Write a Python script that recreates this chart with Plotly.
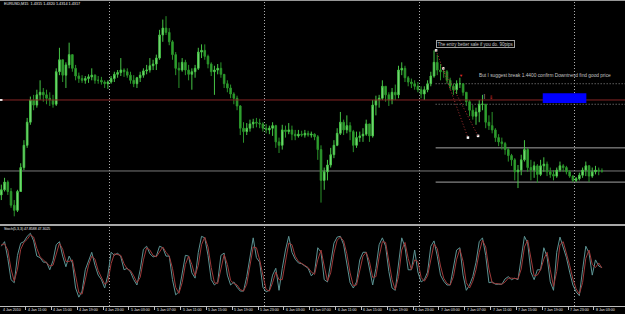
import pandas as pd
import plotly.graph_objects as go

# ---------------- data (EURUSD M30 approximation, prices in pips: 4295 = 1.4295) -------------
open_pips = [
    4289, 4295, 4304, 4293, 4277, 4271, 4293, 4321, 4347, 4374,
    4400, 4394, 4406, 4409, 4406, 4402, 4400, 4395, 4433, 4447,
    4429, 4441, 4453, 4437, 4428, 4425, 4423, 4425, 4427, 4429,
    4423, 4423, 4421, 4419, 4421, 4425, 4430, 4432, 4435, 4433,
    4429, 4423, 4419, 4426, 4429, 4434, 4435, 4440, 4442, 4449,
    4476, 4484, 4479, 4468, 4453, 4437, 4435, 4444, 4435, 4430,
    4433, 4437, 4456, 4458, 4451, 4442, 4433, 4435, 4437, 4430,
    4419, 4414, 4407, 4402, 4393, 4367, 4363, 4367, 4372, 4374,
    4373, 4372, 4367, 4365, 4367, 4370, 4351, 4347, 4365, 4363,
    4365, 4360, 4358, 4360, 4359, 4361, 4359, 4360, 4357, 4342,
    4306, 4316, 4324, 4336, 4347, 4361, 4374, 4365, 4370, 4363,
    4347, 4356, 4358, 4360, 4372, 4358, 4394, 4400, 4402, 4416,
    4406, 4400, 4409, 4406, 4435, 4437, 4426, 4421, 4419, 4416,
    4412, 4407, 4412, 4419, 4428, 4444, 4435, 4433, 4433, 4423,
    4416, 4412, 4419, 4419, 4409, 4398, 4388, 4381, 4386, 4395,
    4395, 4374, 4370, 4365, 4356, 4351, 4349, 4342, 4335, 4330,
    4316, 4318, 4330, 4342, 4321, 4318, 4323, 4313, 4323, 4325,
    4316, 4313, 4311, 4318, 4323, 4321, 4316, 4311, 4306, 4308,
    4312, 4318, 4323, 4311, 4316, 4318, 4317,
]
high_pips = [
    4301, 4309, 4306, 4297, 4283, 4295, 4326, 4353, 4379, 4404,
    4406, 4412, 4423, 4414, 4412, 4409, 4406, 4437, 4461, 4447,
    4444, 4467, 4453, 4441, 4432, 4429, 4428, 4430, 4437, 4430,
    4428, 4427, 4423, 4423, 4428, 4433, 4435, 4449, 4437, 4437,
    4433, 4429, 4427, 4433, 4437, 4441, 4449, 4447, 4453, 4482,
    4494, 4498, 4484, 4470, 4456, 4444, 4449, 4447, 4441, 4437,
    4441, 4461, 4465, 4465, 4453, 4444, 4440, 4442, 4444, 4430,
    4423, 4418, 4409, 4405, 4394, 4374, 4373, 4377, 4378, 4379,
    4378, 4374, 4372, 4370, 4374, 4371, 4356, 4371, 4370, 4373,
    4370, 4365, 4365, 4364, 4365, 4364, 4363, 4361, 4359, 4347,
    4321, 4330, 4344, 4353, 4367, 4386, 4377, 4382, 4374, 4365,
    4363, 4363, 4367, 4377, 4372, 4400, 4405, 4406, 4423, 4416,
    4409, 4414, 4418, 4440, 4444, 4440, 4428, 4425, 4423, 4421,
    4416, 4416, 4423, 4433, 4458, 4453, 4442, 4437, 4435, 4426,
    4419, 4423, 4426, 4419, 4409, 4400, 4394, 4391, 4400, 4406,
    4395, 4382, 4386, 4367, 4360, 4356, 4351, 4344, 4337, 4332,
    4324, 4336, 4353, 4344, 4330, 4328, 4325, 4330, 4333, 4328,
    4321, 4318, 4321, 4328, 4325, 4323, 4318, 4312, 4310, 4315,
    4321, 4328, 4324, 4321, 4323, 4321, 4320,
]
low_pips = [
    4283, 4293, 4289, 4274, 4264, 4269, 4293, 4318, 4344, 4371,
    4388, 4391, 4400, 4398, 4395, 4393, 4391, 4393, 4429, 4421,
    4414, 4437, 4433, 4423, 4420, 4420, 4419, 4420, 4423, 4419,
    4419, 4418, 4414, 4413, 4419, 4421, 4426, 4428, 4427, 4426,
    4419, 4415, 4414, 4421, 4426, 4430, 4432, 4435, 4435, 4447,
    4468, 4476, 4464, 4447, 4429, 4414, 4433, 4429, 4423, 4412,
    4426, 4435, 4449, 4447, 4437, 4428, 4406, 4430, 4426, 4414,
    4409, 4402, 4395, 4388, 4359, 4350, 4359, 4363, 4367, 4368,
    4367, 4363, 4361, 4360, 4358, 4344, 4338, 4342, 4356, 4360,
    4353, 4353, 4356, 4357, 4356, 4357, 4356, 4353, 4330, 4280,
    4295, 4306, 4321, 4332, 4346, 4359, 4359, 4361, 4353, 4339,
    4344, 4351, 4351, 4358, 4351, 4356, 4382, 4391, 4400, 4398,
    4393, 4395, 4400, 4402, 4429, 4421, 4416, 4414, 4412, 4409,
    4402, 4400, 4409, 4416, 4426, 4429, 4423, 4426, 4419, 4412,
    4406, 4407, 4414, 4405, 4393, 4381, 4377, 4371, 4374, 4388,
    4367, 4365, 4361, 4351, 4346, 4342, 4336, 4328, 4323, 4306,
    4297, 4312, 4328, 4316, 4306, 4309, 4303, 4311, 4316, 4311,
    4309, 4306, 4309, 4316, 4316, 4313, 4309, 4304, 4304, 4306,
    4309, 4311, 4304, 4309, 4313, 4312, 4315,
]
close_pips = [
    4295, 4304, 4293, 4277, 4271, 4293, 4321, 4347, 4374, 4400,
    4394, 4406, 4409, 4406, 4402, 4400, 4395, 4433, 4447, 4429,
    4441, 4453, 4437, 4428, 4425, 4423, 4425, 4427, 4429, 4423,
    4423, 4421, 4419, 4421, 4425, 4430, 4432, 4435, 4433, 4429,
    4423, 4419, 4426, 4429, 4434, 4435, 4440, 4442, 4449, 4476,
    4484, 4479, 4468, 4453, 4437, 4435, 4444, 4435, 4430, 4433,
    4437, 4456, 4458, 4451, 4442, 4433, 4435, 4437, 4430, 4419,
    4414, 4407, 4402, 4393, 4367, 4363, 4367, 4372, 4374, 4373,
    4372, 4367, 4365, 4367, 4370, 4351, 4347, 4365, 4363, 4365,
    4360, 4358, 4360, 4359, 4361, 4359, 4360, 4357, 4342, 4306,
    4316, 4324, 4336, 4347, 4361, 4374, 4365, 4370, 4363, 4347,
    4356, 4358, 4360, 4372, 4358, 4394, 4400, 4402, 4416, 4406,
    4400, 4409, 4406, 4435, 4437, 4426, 4421, 4419, 4416, 4412,
    4407, 4412, 4419, 4428, 4444, 4435, 4433, 4433, 4423, 4416,
    4412, 4419, 4419, 4409, 4398, 4388, 4381, 4386, 4395, 4395,
    4374, 4370, 4365, 4356, 4351, 4349, 4342, 4335, 4330, 4316,
    4318, 4330, 4342, 4321, 4318, 4323, 4313, 4323, 4325, 4316,
    4313, 4311, 4318, 4323, 4321, 4316, 4311, 4306, 4308, 4312,
    4318, 4323, 4311, 4316, 4318, 4317, 4317,
]
stoch_main = [
    76, 82, 60, 32, 28, 64, 80, 82, 89, 93,
    83, 63, 61, 55, 55, 45, 57, 78, 82, 63,
    49, 63, 54, 21, 9, 17, 45, 58, 68, 51,
    38, 32, 21, 38, 68, 64, 67, 62, 45, 47,
    42, 32, 25, 45, 72, 76, 66, 62, 63, 76,
    74, 63, 63, 32, 12, 16, 41, 64, 63, 41,
    34, 68, 89, 87, 64, 32, 25, 29, 64, 67,
    38, 25, 29, 22, 17, 17, 36, 64, 87, 61,
    55, 22, 16, 18, 38, 47, 18, 47, 71, 89,
    68, 59, 54, 53, 50, 47, 37, 42, 74, 68,
    32, 29, 54, 80, 88, 89, 78, 55, 28, 21,
    29, 58, 68, 68, 45, 25, 47, 78, 87, 76,
    43, 21, 18, 55, 87, 75, 45, 45, 71, 42,
    29, 32, 42, 76, 83, 63, 38, 30, 25, 25,
    47, 71, 74, 38, 18, 25, 36, 55, 82, 87,
    64, 28, 29, 26, 26, 26, 33, 36, 32, 34,
    32, 61, 89, 80, 42, 32, 45, 45, 74, 62,
    29, 18, 68, 88, 76, 61, 42, 25, 16, 11,
    45, 76, 67, 38, 58, 50, 47.86,
]
stoch_signal = [
    78, 79, 71, 46, 30, 46, 72, 81, 85, 91,
    88, 73, 62, 58, 55, 50, 51, 67, 80, 72,
    56, 56, 58, 37, 15, 13, 31, 51, 63, 59,
    44, 35, 26, 29, 53, 66, 65, 64, 53, 46,
    44, 37, 28, 35, 58, 74, 71, 64, 62, 69,
    75, 68, 63, 47, 22, 14, 28, 52, 63, 52,
    37, 51, 78, 88, 75, 48, 28, 27, 46, 65,
    52, 31, 27, 25, 19, 17, 26, 50, 75, 74,
    58, 38, 19, 17, 28, 42, 32, 32, 59, 80,
    78, 63, 56, 53, 51, 48, 42, 39, 58, 71,
    50, 30, 41, 67, 84, 88, 83, 66, 41, 24,
    25, 43, 63, 68, 56, 35, 36, 62, 82, 81,
    59, 32, 19, 36, 71, 81, 60, 45, 58, 56,
    35, 30, 37, 59, 79, 73, 50, 34, 27, 25,
    36, 59, 72, 56, 28, 21, 30, 45, 68, 84,
    75, 46, 28, 27, 26, 26, 29, 34, 34, 33,
    33, 46, 75, 84, 61, 37, 38, 45, 59, 68,
    45, 23, 43, 78, 82, 68, 51, 33, 20, 13,
    28, 60, 71, 52, 48, 54, 47.30,
]
# bar mid-times (30-minute bars)
bar_times = pd.date_range("2010-01-04 07:15", periods=len(close_pips), freq="30min")

tick_labels = [
    "4 Jan 2010", "4 Jan 11:00", "4 Jan 15:00", "4 Jan 19:00", "4 Jan 23:00",
    "5 Jan 03:00", "5 Jan 07:00", "5 Jan 11:00", "5 Jan 15:00", "5 Jan 19:00",
    "5 Jan 23:00", "6 Jan 03:00", "6 Jan 07:00", "6 Jan 11:00", "6 Jan 15:00",
    "6 Jan 19:00", "6 Jan 23:00", "7 Jan 03:00", "7 Jan 07:00", "7 Jan 11:00",
    "7 Jan 15:00", "7 Jan 19:00", "7 Jan 23:00", "8 Jan 03:00",
]
tick_times = pd.date_range("2010-01-04 07:00", periods=len(tick_labels), freq="4h")
day_breaks = pd.to_datetime(["2010-01-05", "2010-01-06", "2010-01-07", "2010-01-08"])

title_text = "EURUSD,M15  1.4315 1.4320 1.4314 1.4317"
stoch_text = "Stoch(5,3,3) 47.8588 47.3025"
note1_text = "The entry better sale if you do. 90pips"
note2_text = "But I suggest break 1.4400 confirm Downtrend find good price"

# drawn objects (price levels in pips)
level_red = 4400
level_bid = 4317
tool_start = pd.Timestamp("2010-01-07 02:30")
levels_solid = [4344, 4304]
levels_dotted = [4419, 4395]
blue_box = dict(t0="2010-01-07 19:05", t1="2010-01-08 01:50", p0=4396.5, p1=4408)
trend_lines = [
    ("2010-01-07 02:34", 4458, "2010-01-07 07:30", 4356),
    ("2010-01-07 03:40", 4437, "2010-01-07 09:04", 4358),
]
note1_pos = ("2010-01-07 02:34", 4466)
note2_pos = ("2010-01-07 08:54", 4429)

X_RANGE = ["2010-01-04 07:02:38", "2010-01-08 07:49:12"]
Y_RANGE = [4255.0, 4515.7]
S_RANGE = [-2.6, 102.6]

# ---------------- figure -------------
fig = go.Figure()
fig.add_trace(go.Candlestick(
    x=bar_times, open=open_pips, high=high_pips, low=low_pips, close=close_pips,
    xaxis="x", yaxis="y",
    increasing=dict(line=dict(color="#46C446", width=1), fillcolor="#8EE08E"),
    decreasing=dict(line=dict(color="#2A932A", width=1), fillcolor="#33A633"),
    whiskerwidth=0, showlegend=False, hoverinfo="skip",
))
fig.add_trace(go.Scatter(x=bar_times, y=stoch_main, xaxis="x2", yaxis="y2", mode="lines",
                         line=dict(color="#5C9494", width=1), showlegend=False, hoverinfo="skip"))
fig.add_trace(go.Scatter(x=bar_times, y=stoch_signal, xaxis="x2", yaxis="y2", mode="lines",
                         line=dict(color="#9E3A3A", width=1), showlegend=False, hoverinfo="skip"))

# end points of trend lines
pt_t = [t for tl in trend_lines for t in (tl[0], tl[2])]
pt_p = [p for tl in trend_lines for p in (tl[1], tl[3])]
fig.add_trace(go.Scatter(x=pd.to_datetime(pt_t), y=pt_p, xaxis="x", yaxis="y", mode="markers",
                         marker=dict(symbol="square", size=2.5, color="#FFFFFF"),
                         showlegend=False, hoverinfo="skip"))

DOT = "1px,2px"
shapes = []
# frame lines
shapes.append(dict(type="line", xref="paper", yref="paper", x0=0, x1=1, y0=0.9985, y1=0.9985,
                   line=dict(color="#9C9C9C", width=1)))
shapes.append(dict(type="line", xref="paper", yref="paper", x0=0, x1=1, y0=0.2838, y1=0.2838,
                   line=dict(color="#A8A8A8", width=2)))
# day separators
for d in day_breaks:
    shapes.append(dict(type="line", xref="x", yref="paper", x0=d, x1=d, y0=0.0255, y1=0.997,
                       line=dict(color="#B0B0B0", width=1, dash=DOT), layer="below"))
# full-width levels
shapes.append(dict(type="line", xref="paper", yref="y", x0=0, x1=1, y0=level_red, y1=level_red,
                   line=dict(color="#862424", width=1)))
shapes.append(dict(type="line", xref="paper", yref="y", x0=0, x1=1, y0=level_bid, y1=level_bid,
                   line=dict(color="#7A7A7A", width=1), layer="below"))
for lv in levels_solid:
    shapes.append(dict(type="line", xref="x", yref="y", x0=tool_start, x1=X_RANGE[1], y0=lv, y1=lv,
                       line=dict(color="#A4A4A4", width=1), layer="below"))
for lv in levels_dotted:
    shapes.append(dict(type="line", xref="x", yref="y", x0=tool_start, x1=X_RANGE[1], y0=lv, y1=lv,
                       line=dict(color="#8C8C8C", width=1, dash=DOT), layer="below"))
shapes.append(dict(type="rect", xref="x", yref="y", x0=blue_box["t0"], x1=blue_box["t1"],
                   y0=blue_box["p0"], y1=blue_box["p1"], fillcolor="#0000FF",
                   line=dict(width=0)))
for t0, p0, t1, p1 in trend_lines:
    shapes.append(dict(type="line", xref="x", yref="y", x0=t0, x1=t1, y0=p0, y1=p1,
                       line=dict(color="#A83232", width=1, dash=DOT)))
# small left marker on red line
shapes.append(dict(type="rect", xref="paper", yref="y", x0=0, x1=0.004, y0=level_red - 1, y1=level_red + 1,
                   fillcolor="#FFFFFF", line=dict(width=0)))

annotations = []
FONT = "Liberation Sans, Arial, sans-serif"
annotations.append(dict(xref="paper", yref="paper", x=0.003, y=0.987, text=title_text, showarrow=False,
                        xanchor="left", yanchor="middle", font=dict(family=FONT, size=3.8, color="#F0F0F0")))
annotations.append(dict(xref="paper", yref="paper", x=0.003, y=0.271, text=stoch_text, showarrow=False,
                        xanchor="left", yanchor="middle", font=dict(family=FONT, size=3.5, color="#F0F0F0")))
x_start = pd.Timestamp(X_RANGE[0])
for t, lab in zip(tick_times, tick_labels):
    if t < x_start:
        annotations.append(dict(xref="paper", yref="paper", x=0.002, y=0.0125, text=lab, showarrow=False,
                                xanchor="left", yanchor="middle",
                                font=dict(family=FONT, size=3.6, color="#E6E6E6")))
    else:
        annotations.append(dict(xref="x", yref="paper", x=t, y=0.0125, text=lab, showarrow=False,
                                xanchor="left", yanchor="middle",
                                font=dict(family=FONT, size=3.6, color="#E6E6E6")))
annotations.append(dict(xref="x", yref="y", x=note1_pos[0], y=note1_pos[1], text=note1_text,
                        showarrow=False, xanchor="left", yanchor="middle",
                        bordercolor="#A0A0A0", borderwidth=1, borderpad=0.5,
                        font=dict(family=FONT, size=4.5, color="#C8C8C8")))
annotations.append(dict(xref="x", yref="y", x=note2_pos[0], y=note2_pos[1], text=note2_text,
                        showarrow=False, xanchor="left", yanchor="middle",
                        font=dict(family=FONT, size=4.8, color="#C4C4C4")))
# small arrow markers
annotations.append(dict(xref="x", yref="y", x="2010-01-07 06:26", y=4429, text="&#9660;", showarrow=False,
                        font=dict(size=4, color="#E03030")))
annotations.append(dict(xref="x", yref="y", x="2010-01-07 11:04", y=4404, text="&#8659;", showarrow=False,
                        font=dict(size=5, color="#E03030")))
annotations.append(dict(xref="x", yref="y", x="2010-01-07 10:00", y=4405, text="|", showarrow=False,
                        font=dict(size=5, color="#FFFFFF")))

fig.update_layout(
    width=625, height=314, margin=dict(l=0, r=0, t=0, b=0),
    paper_bgcolor="#000000", plot_bgcolor="#000000", showlegend=False,
    xaxis=dict(domain=[0, 1], range=X_RANGE, anchor="y", type="date", showgrid=False, zeroline=False,
               showticklabels=False, ticks="", rangeslider=dict(visible=False), fixedrange=True),
    xaxis2=dict(domain=[0, 1], range=X_RANGE, anchor="y2", type="date", matches="x", showgrid=False,
                zeroline=False, showticklabels=False, ticks="outside", tickvals=list(tick_times),
                ticklen=3, tickwidth=1, tickcolor="#BDBDBD", showline=True, linecolor="#BDBDBD", linewidth=1),
    yaxis=dict(domain=[0.2866, 0.9968], range=Y_RANGE, showgrid=False, zeroline=False,
               showticklabels=False, ticks=""),
    yaxis2=dict(domain=[0.0255, 0.2803], range=S_RANGE, showgrid=False, zeroline=False,
                showticklabels=False, ticks=""),
    shapes=shapes, annotations=annotations,
)

fig.write_html("out.html")
